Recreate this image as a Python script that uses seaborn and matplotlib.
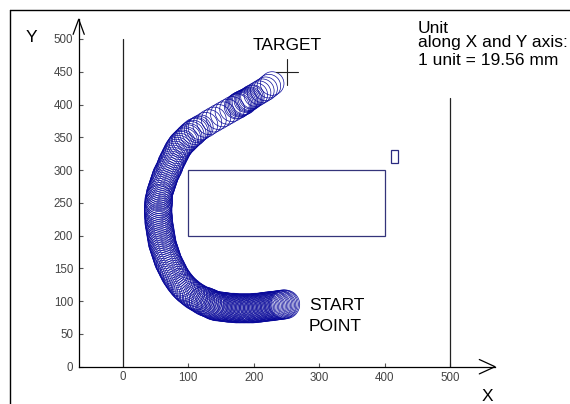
import numpy as np
import pandas as pd
import seaborn as sns
import matplotlib
matplotlib.use("Agg")
import matplotlib.pyplot as plt
from matplotlib.patches import Circle, Rectangle
from matplotlib.lines import Line2D

# ---------------- data ----------------
# robot positions (x, y, radius) read along the path, from start to target
bottom_leg = [
    (248, 95, 22), (246, 95, 22), (244, 95, 22), (242, 94, 22), (240, 94, 22), (238, 94, 22),
    (236, 94, 22), (234, 93, 22), (232, 93, 22), (230, 93, 22), (228, 93, 22), (226, 92, 22),
    (224, 92, 22), (222, 92, 22), (220, 92, 22), (218, 91, 22), (216, 91, 22), (214, 91, 22),
    (212, 91, 22), (210, 90, 22), (208, 90, 22), (206, 90, 22), (204, 90, 22), (202, 90, 22),
    (200, 89, 22), (198, 89, 22), (196, 89, 22), (194, 89, 22), (192, 89, 22), (190, 89, 22),
    (188, 89, 22), (186, 89, 22), (184, 89, 22), (182, 89, 22), (180, 89, 22), (178, 89, 22),
    (176, 89, 22), (174, 89, 22), (172, 89, 22), (170, 90, 22), (168, 90, 22), (166, 90, 22),
    (164, 90, 22), (162, 90, 22), (160, 90, 22), (158, 91, 22), (156, 91, 22), (154, 91, 22),
    (152, 91, 22), (150, 92, 22), (148, 92, 22), (146, 92, 22), (144, 92, 22), (142, 93, 22),
    (140, 93, 22), (138, 94, 22), (136, 95, 22),
]
left_leg = [
    (134, 96, 22), (132, 97, 22), (129, 98, 22), (127, 99, 22), (124, 100, 22), (122, 101, 21),
    (119, 102, 21), (117, 104, 21), (114, 105, 21), (112, 107, 21), (109, 108, 21), (107, 110, 21),
    (104, 112, 21), (102, 114, 21), (99, 116, 21), (97, 118, 21), (95, 120, 21), (93, 122, 21),
    (91, 124, 21), (89, 127, 21), (87, 129, 21), (85, 132, 21), (83, 135, 21), (81, 138, 21),
    (79, 141, 21), (78, 144, 21), (76, 147, 21), (75, 150, 21), (73, 153, 21), (72, 156, 21),
    (70, 159, 21), (69, 162, 21), (68, 165, 21), (67, 168, 21), (66, 171, 21), (65, 174, 21),
    (64, 177, 21), (63, 180, 21), (62, 183, 21), (61, 186, 21), (60, 189, 21), (60, 192, 21),
    (59, 195, 21), (59, 198, 21), (58, 201, 21), (58, 204, 21), (57, 207, 21), (57, 210, 21),
    (56, 213, 21), (56, 216, 21), (55, 219, 21), (55, 222, 21), (55, 225, 21), (55, 228, 21),
    (54, 231, 21), (54, 234, 21), (54, 237, 21), (54, 240, 21), (54, 243, 21), (54, 246, 21),
    (55, 249, 21), (55, 252, 21), (55, 255, 21), (55, 258, 20), (56, 261, 20), (56, 264, 20),
    (57, 267, 20), (58, 270, 20), (59, 273, 20), (60, 276, 20), (61, 279, 20), (62, 282, 20),
    (63, 285, 20), (64, 288, 20), (65, 291, 20), (66, 294, 20), (68, 297, 20), (69, 300, 20),
    (71, 303, 20), (72, 306, 20), (73, 309, 20), (74, 312, 20), (76, 315, 20), (77, 318, 20),
    (79, 321, 20), (80, 324, 20), (82, 327, 20), (83, 330, 20), (85, 333, 20), (87, 336, 20),
    (89, 339, 20), (91, 341, 20), (94, 344, 20), (96, 346, 20), (99, 349, 20), (101, 351, 20),
    (104, 354, 20), (107, 356, 20), (110, 359, 20), (113, 361, 19), (116, 363, 19), (119, 365, 19),
]
top_leg = [
    (126, 369, 19), (132, 373, 19), (139, 377, 19), (146, 381, 19), (153, 385, 19), (160, 389, 19),
    (167, 393, 19), (174, 397, 19), (176, 398, 19), (178, 400, 19), (180, 401, 19), (182, 402, 19),
    (184, 403, 19), (186, 404, 19), (188, 406, 18), (190, 407, 18), (192, 408, 18), (194, 409, 18),
    (196, 411, 18), (198, 412, 18), (203, 415, 18), (208, 418, 18), (213, 421, 18), (218, 424, 18),
    (223, 428, 18), (228, 432, 18),
]

target_xy = (251, 449)
obstacle = (100, 200, 300, 100)      # x, y, width, height
small_box = (410, 310, 10, 20)
boundary_x = [0, 500]
boundary_top = [500, 410]

xticks = [100, 200, 300, 400, 500]
xticklabels = ["100", "200", "300", "400", "500"]
yticks = [0, 50, 100, 150, 200, 250, 300, 350, 400, 450, 500]

path = pd.DataFrame(bottom_leg + left_leg + top_leg, columns=["x", "y", "r"])

# ---------------- figure ----------------
sns.set_theme(style="white")
plt.rcParams["font.family"] = ["Liberation Sans", "DejaVu Sans"]

W, H = 570, 404
fig = plt.figure(figsize=(W / 100, H / 100), dpi=100)
fig.patch.set_facecolor("white")

x0_px, y0_px = 122.7, 366.7
sx = sy = 0.6555
ax_left_px = 78.7
xmin = (ax_left_px - x0_px) / sx
xmax = (W - x0_px) / sx
ymax = y0_px / sy
ax = fig.add_axes([ax_left_px / W, (H - y0_px) / H, (W - ax_left_px) / W, y0_px / H])
ax.set_xlim(xmin, xmax)
ax.set_ylim(0, ymax)
ax.set_facecolor("white")

# spines as axis lines with arrows
for s in ["top", "right"]:
    ax.spines[s].set_visible(False)
for s in ["left", "bottom"]:
    ax.spines[s].set_color("black")
    ax.spines[s].set_linewidth(0.9)
ax.spines["left"].set_bounds(0, 530)
ax.spines["bottom"].set_bounds(xmin, 568)
ax.plot([xmin - 8.5, xmin, xmin + 8.5], [507, 530, 507], color="black", lw=0.9, clip_on=False)
ax.plot([544, 568, 544], [11, 0, -11], color="black", lw=0.9, clip_on=False)

ax.set_xticks(xticks)
ax.set_xticklabels(xticklabels)
ax.set_yticks(yticks)
ax.tick_params(axis="both", direction="in", length=3, width=0.8, color="#555555",
               labelsize=8.3, labelcolor="#444444", left=True, bottom=True)
ax.tick_params(axis="y", pad=4)
ax.tick_params(axis="x", pad=4)
ax.text(0, -6, "0", ha="center", va="top", fontsize=8.3, color="#444444")
ax.grid(False)

# field boundaries
for bx, bt in zip(boundary_x, boundary_top):
    ax.plot([bx, bx], [0, bt], color="#222222", lw=0.9)

# obstacles
ax.add_patch(Rectangle(obstacle[:2], obstacle[2], obstacle[3], fill=False,
                       edgecolor="#34347a", lw=0.9))
ax.add_patch(Rectangle(small_box[:2], small_box[2], small_box[3], fill=False,
                       edgecolor="#2a2a80", lw=0.9))

# robot positions (circles)
for _, row in path.iterrows():
    ax.add_patch(Circle((row["x"], row["y"]), row["r"], fill=False,
                        edgecolor="#0a0a9a", lw=0.5))

# target cross
tx, ty = target_xy
ax.plot([tx - 17, tx + 17], [ty, ty], color="#222222", lw=0.8)
ax.plot([tx, tx], [ty - 20, ty + 20], color="#222222", lw=0.8)

# texts
fs = 12.5
def ftxt(px, py, s, **kw):
    fig.text(px / W, 1 - py / H, s, fontsize=fs, color="black", **kw)

ftxt(287.5, 50, "TARGET", ha="center", va="baseline")
ftxt(309, 310, "START", ha="left", va="baseline")
ftxt(309, 331, "POINT", ha="left", va="baseline")
ftxt(418, 33, "Unit", ha="left", va="baseline")
ftxt(418, 47, "along X and Y axis:", ha="left", va="baseline")
ftxt(418, 65, "1 unit = 19.56 mm", ha="left", va="baseline")
ftxt(31, 42, "Y", ha="center", va="baseline")
ftxt(487, 401, "X", ha="center", va="baseline")

# figure frame (left and top edges visible)
fig.add_artist(Line2D([9.5 / W, 9.5 / W], [0, 1 - 9.5 / H], color="black", lw=1.0,
                      transform=fig.transFigure))
fig.add_artist(Line2D([9.5 / W, 1], [1 - 9.5 / H, 1 - 9.5 / H], color="black", lw=1.0,
                      transform=fig.transFigure))

fig.savefig("out.png", dpi=100)
